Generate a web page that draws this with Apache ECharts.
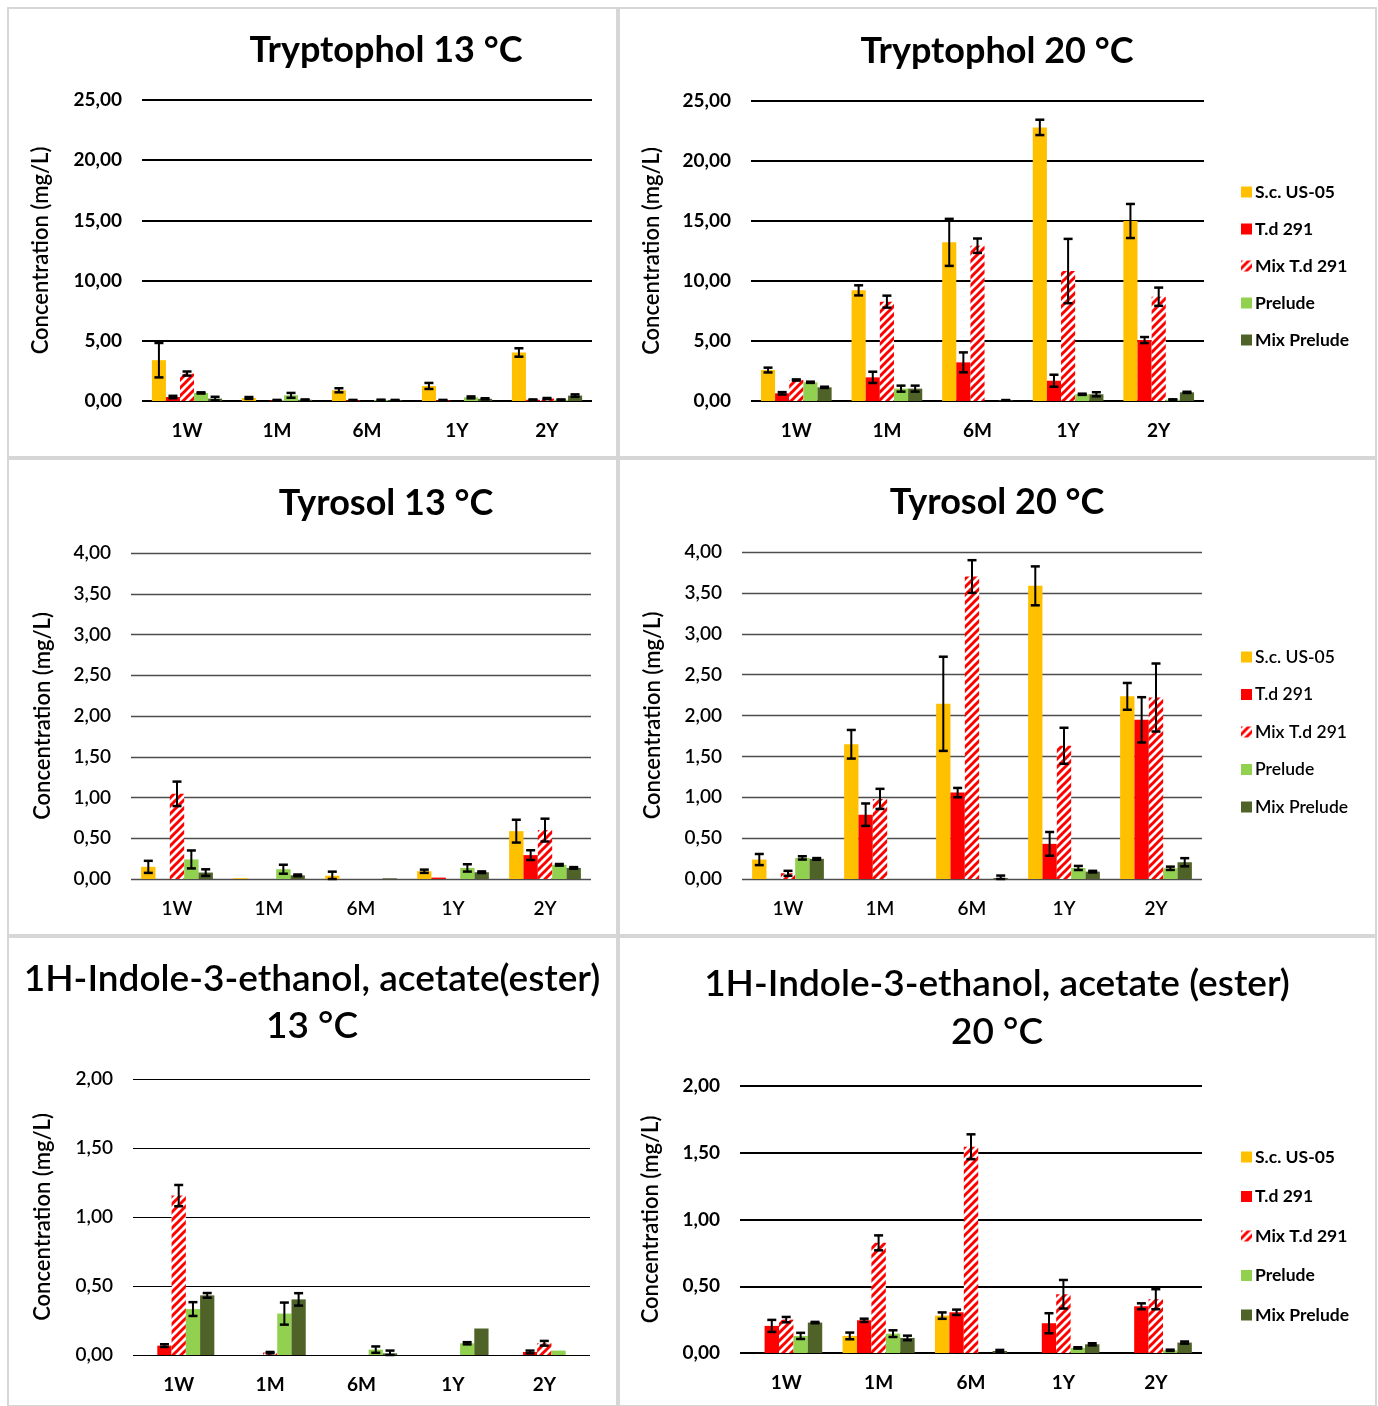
<!DOCTYPE html>
<html>
<head>
<meta charset="utf-8">
<title>Tryptophol, Tyrosol and 1H-Indole-3-ethanol acetate</title>
<script src="https://cdn.jsdelivr.net/npm/echarts@6/dist/echarts.min.js"></script>
<style>
  html, body { margin: 0; padding: 0; background: #fff; }
  #chart { width: 1378px; height: 1406px; }
</style>
</head>
<body>
<div id="chart"></div>
<script>
// Sampling points and yeast treatments
const categories = ['1W', '1M', '6M', '1Y', '2Y'];
const strains = ['S.c. US-05', 'T.d 291', 'Mix T.d 291', 'Prelude', 'Mix Prelude'];

// Mean concentrations (mg/L); one row per strain, one column per sampling point
const tryptophol13Mean = [
  [3.39, 0.25, 0.89, 1.25, 4.03],
  [0.33, 0, 0.06, 0.06, 0.10],
  [2.28, 0.06, 0, 0, 0.20],
  [0.67, 0.47, 0.08, 0.30, 0.10],
  [0.20, 0.10, 0.06, 0.18, 0.45]
];
const tryptophol13Err = [
  [1.43, 0.08, 0.17, 0.25, 0.35],
  [0.10, 0, 0.03, 0.03, 0.03],
  [0.17, 0.03, 0, 0, 0.05],
  [0.05, 0.20, 0.03, 0.08, 0.03],
  [0.15, 0.03, 0.03, 0.05, 0.10]
];

const tryptophol20Mean = [
  [2.58, 9.22, 13.22, 22.80, 15.00],
  [0.64, 1.97, 3.22, 1.69, 5.08],
  [1.75, 8.28, 12.94, 10.83, 8.69],
  [1.56, 1.03, 0, 0.56, 0.11],
  [1.14, 1.03, 0.05, 0.56, 0.72]
];
const tryptophol20Err = [
  [0.20, 0.42, 1.96, 0.64, 1.42],
  [0.10, 0.47, 0.83, 0.50, 0.25],
  [0.05, 0.50, 0.60, 2.68, 0.76],
  [0.05, 0.25, 0, 0.05, 0.03],
  [0.05, 0.25, 0.03, 0.17, 0.05]
];

const tyrosol13Mean = [
  [0.149, 0.010, 0.040, 0.095, 0.587],
  [0, 0, 0, 0.017, 0.293],
  [1.045, 0, 0, 0, 0.600],
  [0.240, 0.120, 0, 0.136, 0.174],
  [0.079, 0.045, 0.008, 0.083, 0.136]
];
const tyrosol13Err = [
  [0.074, 0, 0.050, 0.020, 0.140],
  [0, 0, 0, 0, 0.060],
  [0.150, 0, 0, 0, 0.140],
  [0.110, 0.055, 0, 0.045, 0.010],
  [0.040, 0.010, 0, 0.010, 0.010]
];

const tyrosol20Mean = [
  [0.238, 1.648, 2.143, 3.586, 2.234],
  [0, 0.787, 1.057, 0.430, 1.947],
  [0.070, 0.980, 3.700, 1.630, 2.220],
  [0.258, 0, 0, 0.135, 0.131],
  [0.246, 0, 0.012, 0.090, 0.205]
];
const tyrosol20Err = [
  [0.068, 0.175, 0.576, 0.238, 0.164],
  [0, 0.137, 0.057, 0.145, 0.277],
  [0.030, 0.123, 0.200, 0.220, 0.416],
  [0.020, 0, 0, 0.025, 0.020],
  [0.010, 0, 0.030, 0.010, 0.050]
];

const indoleAcetate13Mean = [
  [0, 0, 0, 0, 0],
  [0.068, 0, 0, 0, 0.022],
  [1.155, 0.017, 0, 0, 0.085],
  [0.333, 0.300, 0.039, 0.085, 0.032],
  [0.432, 0.403, 0.012, 0.192, 0]
];
const indoleAcetate13Err = [
  [0, 0, 0, 0, 0],
  [0.010, 0, 0, 0, 0.010],
  [0.077, 0.005, 0, 0, 0.017],
  [0.050, 0.080, 0.023, 0.008, 0],
  [0.017, 0.045, 0.020, 0, 0]
];

const indoleAcetate20Mean = [
  [0, 0.128, 0.280, 0, 0],
  [0.203, 0.245, 0.305, 0.223, 0.350],
  [0.250, 0.825, 1.545, 0.440, 0.403],
  [0.128, 0.145, 0, 0.038, 0.020],
  [0.228, 0.113, 0.015, 0.065, 0.078]
];
const indoleAcetate20Err = [
  [0, 0.025, 0.024, 0, 0],
  [0.045, 0.012, 0.020, 0.075, 0.022],
  [0.020, 0.056, 0.093, 0.107, 0.075],
  [0.023, 0.025, 0, 0.005, 0.005],
  [0.005, 0.017, 0.008, 0.008, 0.008]
];

const FONT = 'Lato, "Open Sans", "DejaVu Sans", sans-serif';
const CAT_GAP = 0.22;

// Red diagonal hatch for the mixed T.d 291 fermentation
function hatchPattern() {
  const c = document.createElement('canvas');
  c.width = 8; c.height = 8;
  const g = c.getContext('2d');
  g.fillStyle = '#ffffff';
  g.fillRect(0, 0, 8, 8);
  g.strokeStyle = '#ff0000';
  g.lineWidth = 3;
  g.beginPath();
  g.moveTo(-2, 10); g.lineTo(10, -2);
  g.moveTo(-2, 2); g.lineTo(2, -2);
  g.moveTo(6, 10); g.lineTo(10, 6);
  g.stroke();
  return c;
}
const hatch = { image: hatchPattern(), repeat: 'repeat' };
const strainColors = ['#FFC000', '#FF0000', hatch, '#92D050', '#4F6228'];

// Panel layout and styling
const panels = [
  { mean: tryptophol13Mean, err: tryptophol13Err, left: 142, top: 100, width: 450, height: 301,
    max: 25, step: 5, grid: { color: '#000', width: 2 }, tickW: 'bold', catW: 'bold', nameGap: 90 },
  { mean: tryptophol20Mean, err: tryptophol20Err, left: 751, top: 101, width: 453, height: 300,
    max: 25, step: 5, grid: { color: '#000', width: 2 }, tickW: 'bold', catW: 'bold', nameGap: 88 },
  { mean: tyrosol13Mean, err: tyrosol13Err, left: 131, top: 553, width: 460, height: 326,
    max: 4, step: 0.5, grid: { color: '#4d4d4d', width: 1.3 }, tickW: 600, catW: 600, nameGap: 77 },
  { mean: tyrosol20Mean, err: tyrosol20Err, left: 742, top: 552, width: 460, height: 327,
    max: 4, step: 0.5, grid: { color: '#4d4d4d', width: 1.3 }, tickW: 600, catW: 600, nameGap: 78 },
  { mean: indoleAcetate13Mean, err: indoleAcetate13Err, left: 133, top: 1079, width: 457, height: 276,
    max: 2, step: 0.5, grid: { color: '#000', width: 1 }, tickW: 600, catW: 'bold', nameGap: 79 },
  { mean: indoleAcetate20Mean, err: indoleAcetate20Err, left: 740, top: 1086, width: 462, height: 267,
    max: 2, step: 0.5, grid: { color: '#000', width: 2 }, tickW: 'bold', catW: 'bold', nameGap: 78 }
];

function errorBar(params, api) {
  const cat = api.value(0), s = api.value(1), v = api.value(2), e = api.value(3);
  const band = api.size([1, 0])[0];
  const groupW = band * (1 - CAT_GAP);
  const bw = groupW / strains.length;
  const x = api.coord([cat, 0])[0] - groupW / 2 + bw * (s + 0.5);
  const yT = api.coord([cat, v + e])[1];
  const yB = api.coord([cat, Math.max(0, v - e)])[1];
  const cw = 4.5;
  const cap = { stroke: '#000', lineWidth: 2.5 };
  return {
    type: 'group',
    children: [
      { type: 'line', shape: { x1: x, y1: yT, x2: x, y2: yB }, style: { stroke: '#000', lineWidth: 2 } },
      { type: 'line', shape: { x1: x - cw, y1: yT, x2: x + cw, y2: yT }, style: cap },
      { type: 'line', shape: { x1: x - cw, y1: yB, x2: x + cw, y2: yB }, style: cap }
    ]
  };
}

const grids = [], xAxes = [], yAxes = [], series = [];
panels.forEach((p, i) => {
  grids.push({ left: p.left, top: p.top, width: p.width, height: p.height });
  xAxes.push({
    type: 'category', gridIndex: i, data: categories,
    axisLine: { show: false }, axisTick: { show: false },
    axisLabel: { margin: 20, fontSize: 19, fontFamily: FONT, color: '#000', fontWeight: p.catW }
  });
  yAxes.push({
    type: 'value', gridIndex: i, min: 0, max: p.max, interval: p.step,
    name: 'Concentration (mg/L)', nameLocation: 'middle', nameGap: p.nameGap,
    nameTextStyle: { fontSize: 22, fontFamily: FONT, color: '#000', fontWeight: 600 },
    axisLine: { show: false }, axisTick: { show: false },
    splitLine: { lineStyle: { color: p.grid.color, width: p.grid.width } },
    axisLabel: {
      margin: 20, fontSize: 19, fontFamily: FONT, color: '#000', fontWeight: p.tickW,
      formatter: v => v.toFixed(2).replace('.', ',')
    }
  });
  strains.forEach((name, s) => {
    series.push({
      type: 'bar', name, xAxisIndex: i, yAxisIndex: i,
      data: p.mean[s], barGap: '0%', barCategoryGap: (CAT_GAP * 100) + '%',
      itemStyle: { color: strainColors[s] }, silent: true
    });
  });
  const errData = [];
  strains.forEach((name, s) => {
    categories.forEach((c, k) => {
      if (p.err[s][k] > 0) errData.push([k, s, p.mean[s][k], p.err[s][k]]);
    });
  });
  series.push({
    type: 'custom', xAxisIndex: i, yAxisIndex: i, renderItem: errorBar,
    data: errData, encode: { x: 0, y: 2 }, z: 5, silent: true
  });
});

function legendAt(top, gap, weight) {
  return {
    orient: 'vertical', left: 1236, top, itemWidth: 11, itemHeight: 11, itemGap: gap,
    icon: 'rect', data: strains, selectedMode: false,
    textStyle: { fontSize: 17.5, fontFamily: FONT, color: '#000', fontWeight: weight, lineHeight: 16, padding: [0, 0, 0, -2] }
  };
}

function titleText(x, y, text, weight, size, lh) {
  return {
    type: 'text', x, y,
    style: {
      text, fill: '#000', font: weight + ' ' + size + 'px ' + FONT,
      textAlign: 'center', textVerticalAlign: 'middle', lineHeight: lh || size
    }
  };
}

function frame(x, y, w, h) {
  return { type: 'rect', shape: { x, y, width: w, height: h }, style: { fill: 'none', stroke: '#d6d6d6', lineWidth: 2 }, z: -1 };
}

const option = {
  backgroundColor: '#ffffff',
  animation: false,
  grid: grids, xAxis: xAxes, yAxis: yAxes, series,
  legend: [legendAt(178, 19, 'bold'), legendAt(643, 19.5, 600), legendAt(1143, 21.5, 'bold')],
  graphic: [
    frame(8, 8, 609, 449), frame(619, 8, 757, 449),
    frame(8, 459, 609, 476), frame(619, 459, 757, 476),
    frame(8, 937, 609, 469), frame(619, 937, 757, 469),
    titleText(386, 50, 'Tryptophol 13 °C', 'bold', 36),
    titleText(997, 51, 'Tryptophol 20 °C', 'bold', 36),
    titleText(386, 503, 'Tyrosol 13 °C', 'bold', 36),
    titleText(997, 502, 'Tyrosol 20 °C', 'bold', 36),
    titleText(312, 1003, '1H-Indole-3-ethanol, acetate(ester)\n13 °C', 600, 37, 47),
    titleText(997, 1008, '1H-Indole-3-ethanol, acetate (ester)\n20 °C', 600, 37, 48)
  ]
};

const chart = echarts.init(document.getElementById('chart'), null, { renderer: 'canvas' });
chart.setOption(option);
</script>
</body>
</html>
